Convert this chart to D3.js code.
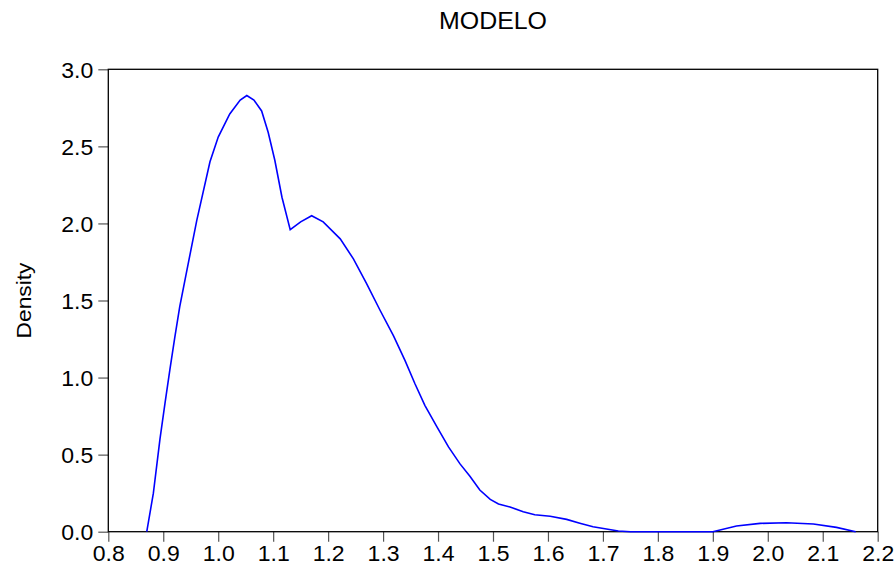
<!DOCTYPE html>
<html>
<head>
<meta charset="utf-8">
<script src="https://cdn.jsdelivr.net/npm/d3@7"></script>
<style>
  body { margin: 0; background: #fff; }
  text { font-family: "Liberation Sans", Arial, sans-serif; }
</style>
</head>
<body>
<div class="svg-div"></div>
<script>
// kernel density of MODELO
const xVals = [0.870, 0.882, 0.894, 0.903, 0.912, 0.921, 0.930, 0.941, 0.961, 0.985,
  1.000, 1.021, 1.040, 1.052, 1.065, 1.079, 1.091, 1.103, 1.116, 1.131,
  1.150, 1.170, 1.191, 1.222, 1.246, 1.270, 1.294, 1.319, 1.340, 1.358,
  1.376, 1.398, 1.419, 1.440, 1.458, 1.476, 1.495, 1.510, 1.531, 1.555,
  1.576, 1.604, 1.634, 1.658, 1.682, 1.728, 1.750, 1.900, 1.943, 1.986,
  2.034, 2.083, 2.125, 2.160];
const density = [0.00, 0.25, 0.60, 0.83, 1.05, 1.26, 1.46, 1.66, 2.02, 2.40,
  2.56, 2.71, 2.80, 2.83, 2.80, 2.73, 2.59, 2.41, 2.17, 1.96,
  2.01, 2.05, 2.01, 1.90, 1.77, 1.61, 1.44, 1.27, 1.11, 0.96,
  0.82, 0.68, 0.55, 0.44, 0.36, 0.27, 0.21, 0.18, 0.16, 0.13,
  0.11, 0.10, 0.08, 0.055, 0.032, 0.005, 0.00, 0.00, 0.037, 0.054,
  0.058, 0.05, 0.028, 0.00];
const xTicks = [0.8, 0.9, 1.0, 1.1, 1.2, 1.3, 1.4, 1.5, 1.6, 1.7, 1.8, 1.9, 2.0, 2.1, 2.2];
const yTicks = [0.0, 0.5, 1.0, 1.5, 2.0, 2.5, 3.0];
const title = "MODELO";
const yLabel = "Density";

const svgWidth = 896, svgHeight = 567;
const margin = {top: 69.3, right: 18.3, bottom: 35.3, left: 108.3};
let width = svgWidth - margin.left - margin.right;
let height = svgHeight - margin.top - margin.bottom;

let svg = d3.select(".svg-div").append("svg")
  .attr("width", svgWidth)
  .attr("height", svgHeight);

let x = d3.scaleLinear().domain([0.8, 2.2]).range([0, width]);
let y = d3.scaleLinear().domain([0, 3]).range([height, 0]);

let g = svg.append("g")
  .attr("transform", "translate(" + margin.left + "," + margin.top + ")");

let xAxis = g.append("g")
  .attr("transform", "translate(0," + height + ")")
  .call(d3.axisBottom(x).tickValues(xTicks).tickFormat(d3.format(".1f")).tickSize(10).tickPadding(4));

let yAxis = g.append("g")
  .call(d3.axisLeft(y).tickValues(yTicks).tickFormat(d3.format(".1f")).tickSize(10).tickPadding(5));

[xAxis, yAxis].forEach(a => {
  a.select(".domain").remove();
  a.selectAll(".tick line").attr("stroke", "#555").attr("stroke-width", 1.2);
  a.selectAll(".tick text")
    .attr("fill", "#000")
    .attr("textLength", 32)
    .attr("lengthAdjust", "spacingAndGlyphs")
    .style("font-size", "21.5px")
    .style("font-family", "'Liberation Sans', Arial, sans-serif");
});
yAxis.selectAll(".tick text").attr("dy", "0.36em");

// frame
g.append("rect")
  .attr("x", 0).attr("y", 0)
  .attr("width", width).attr("height", height)
  .attr("fill", "none")
  .attr("stroke", "#000")
  .attr("stroke-width", 1.3);

let line = d3.line()
  .x((d, i) => x(xVals[i]))
  .y(d => y(d));

g.append("path")
  .datum(density)
  .attr("fill", "none")
  .attr("stroke", "#0000ff")
  .attr("stroke-width", 1.6)
  .attr("d", line);

svg.append("text")
  .attr("x", margin.left + width / 2)
  .attr("y", 28.5)
  .attr("text-anchor", "middle")
  .attr("textLength", 108)
  .attr("lengthAdjust", "spacingAndGlyphs")
  .style("font-size", "23px")
  .text(title);

svg.append("text")
  .attr("transform", "translate(31," + (margin.top + height / 2) + ") rotate(-90)")
  .attr("text-anchor", "middle")
  .attr("textLength", 76)
  .attr("lengthAdjust", "spacingAndGlyphs")
  .style("font-size", "21px")
  .text(yLabel);
</script>
</body>
</html>
